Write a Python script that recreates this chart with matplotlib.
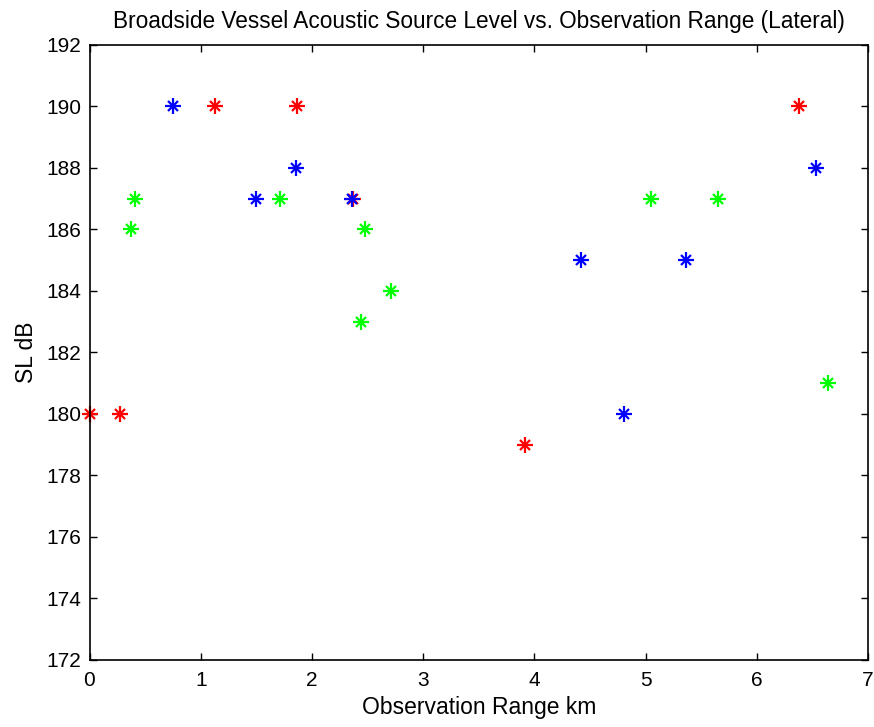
import matplotlib
matplotlib.use("Agg")
import matplotlib.pyplot as plt

# observation range (km) and source level (dB) per group
red_range = [0.0, 0.27, 1.13, 1.87, 2.37, 3.92, 6.38]
red_sl = [180, 180, 190, 190, 187, 179, 190]

green_range = [0.37, 0.41, 1.71, 2.44, 2.48, 2.71, 5.05, 5.65, 6.64]
green_sl = [186, 187, 187, 183, 186, 184, 187, 187, 181]

blue_range = [0.75, 1.50, 1.86, 2.36, 4.42, 4.81, 5.36, 6.53]
blue_sl = [190, 187, 188, 187, 185, 180, 185, 188]

plt.rcParams['font.family'] = ['Liberation Sans', 'DejaVu Sans']

fig = plt.figure(figsize=(8.74, 7.27), dpi=100)
ax = fig.add_axes([89.5 / 874, 1 - 660 / 727, (868 - 89.5) / 874, (660 - 44.7) / 727])

# matlab style asterisk = plus + smaller cross
def asterisk(x, y, c):
    ax.plot(x, y, '+', color=c, markersize=11, markeredgewidth=1.6, clip_on=False)
    ax.plot(x, y, 'x', color=c, markersize=6.5, markeredgewidth=1.6, clip_on=False)

asterisk(red_range, red_sl, (1, 0, 0))
asterisk(green_range, green_sl, (0, 1, 0))
asterisk(blue_range, blue_sl, (0, 0, 1))

ax.set_xlim(0, 7)
ax.set_ylim(172, 192)
ax.set_xticks(range(0, 8))
ax.set_yticks(range(172, 193, 2))
ax.tick_params(direction='in', top=True, right=True, length=5, width=1,
               labelsize=15, pad=6)
ax.tick_params(axis='x', pad=8)
for s in ax.spines.values():
    s.set_linewidth(1.2)

ax.set_title('Broadside Vessel Acoustic Source Level vs. Observation Range (Lateral)',
             fontsize=16.3, pad=12)
ax.set_xlabel('Observation Range km', fontsize=16.5, labelpad=4)
ax.set_ylabel('SL dB', fontsize=16.5, labelpad=6)

fig.savefig('out.png', dpi=100)
